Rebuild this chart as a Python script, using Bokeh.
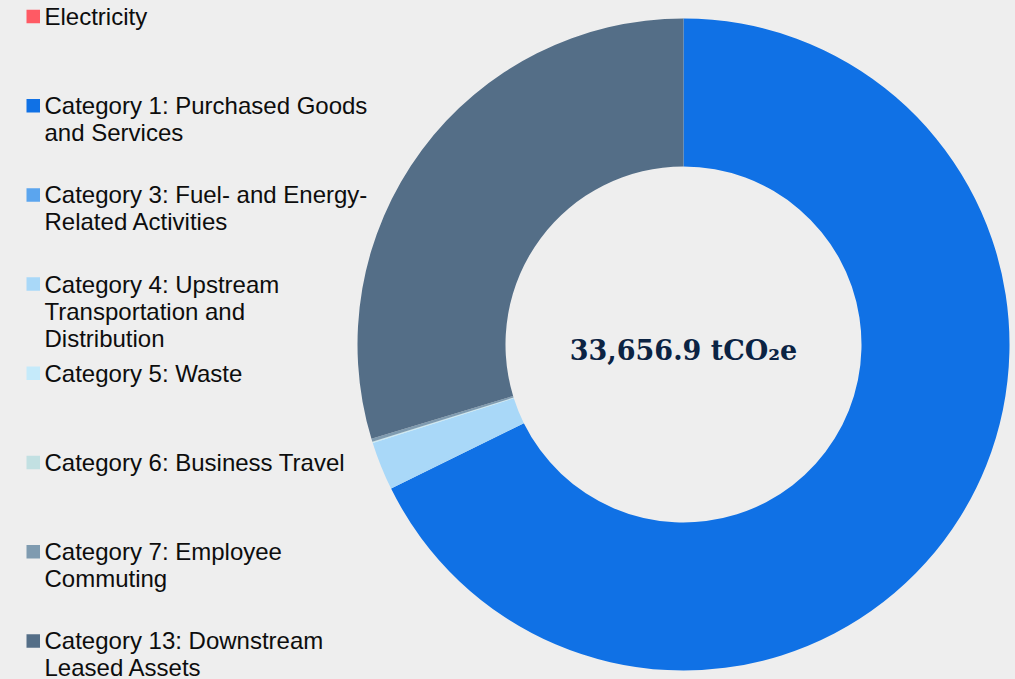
from bokeh.plotting import figure
from bokeh.models import Range1d
from bokeh.core.properties import value
from bokeh.embed import file_html
from bokeh.resources import INLINE
import numpy as np

# ---- data ----
categories = [
    "Electricity",
    "Category 1: Purchased Goods\nand Services",
    "Category 3: Fuel- and Energy-\nRelated Activities",
    "Category 4: Upstream\nTransportation and\nDistribution",
    "Category 5: Waste",
    "Category 6: Business Travel",
    "Category 7: Employee\nCommuting",
    "Category 13: Downstream\nLeased Assets",
]
values = [0.0, 22790.0, 0.0, 810.0, 12.0, 8.0, 50.0, 9986.9]
colors = ["#FF5A64", "#1071E5", "#5BA5EE", "#A9D8F8", "#C5EAFA", "#C2E0E2", "#7F9BB0", "#546E87"]
center_unit = "tCO\u2082e"

# ---- layout (page pixel coordinates) ----
W, H = 1015, 679
def Y(py):
    return H - py

BG = "#EEEEEE"
p = figure(width=W, height=H, x_range=Range1d(0, W), y_range=Range1d(0, H),
           output_backend="svg", toolbar_location=None, min_border=0)
p.axis.visible = False
p.grid.visible = False
p.outline_line_color = None
p.background_fill_color = BG
p.border_fill_color = BG

# donut (zero-valued categories draw no wedge)
vals = np.array(values, dtype=float)
frac = vals / vals.sum()
cum = np.concatenate([[0.0], np.cumsum(frac)])
starts = np.pi / 2 - 2 * np.pi * cum[:-1]
ends = np.pi / 2 - 2 * np.pi * cum[1:]
keep = vals > 0
cx, cy = 683, Y(344)
p.annular_wedge(x=cx, y=cy, inner_radius=178, outer_radius=326,
                start_angle=list(starts[keep]), end_angle=list(ends[keep]), direction="clock",
                fill_color=[c for c, k in zip(colors, keep) if k], line_color=None)

total = vals.sum()
p.text(x=[cx], y=[Y(350)], text=[f"{total:,.1f} {center_unit}"],
       text_font=value("DejaVu Serif"), text_font_style="bold", text_font_size="27px",
       text_color="#0B2343", text_align="center", text_baseline="middle")

# legend
first_y = 16.0
step = 89.2
line_h = 27.0
mx, ms = 32.75, 13.5
tx = 44
lx, ly, lt = [], [], []
for i, lab in enumerate(categories):
    yc = first_y + step * i
    for k, line in enumerate(lab.split("\n")):
        lx.append(tx)
        ly.append(Y(yc + k * line_h))
        lt.append(line)
p.scatter(x=[mx] * len(categories), y=[Y(first_y + step * i) for i in range(len(categories))],
          marker="square", size=ms, fill_color=colors, line_color=None)
p.text(x=lx, y=ly, text=lt, text_font=value("Liberation Sans"), text_font_size="24px",
       text_color="#0D0D0D", text_align="left", text_baseline="middle")

html = file_html(p, INLINE).replace("</head>", "<style>body{background:#EEEEEE;}</style></head>")
open("out.html", "w").write(html)
